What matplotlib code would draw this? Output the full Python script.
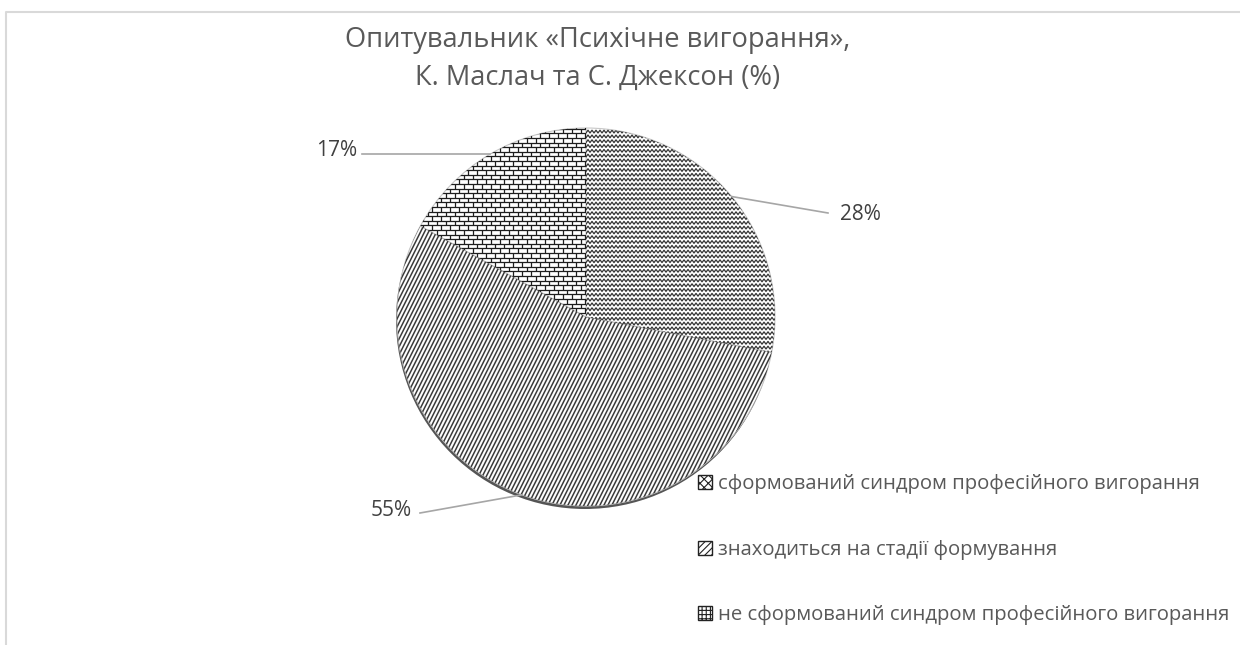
import matplotlib
matplotlib.use('Agg')
import matplotlib.pyplot as plt
import numpy as np
from matplotlib.collections import LineCollection
from matplotlib.patches import Patch, Circle

plt.rcParams['font.family'] = ['Open Sans', 'DejaVu Sans']
plt.rcParams['hatch.linewidth'] = 0.8

# data
categories = ['сформований синдром професійного вигорання',
              'знаходиться на стадії формування',
              'не сформований синдром професійного вигорання']
values = [28, 55, 17]
pct_labels = ['28%', '55%', '17%']
title_lines = ['Опитувальник «Психічне вигорання»,', 'К. Маслач та С. Джексон (%)']

W, H = 1240, 645
fig = plt.figure(figsize=(12.4, 6.45), dpi=100)
ax = fig.add_axes([0, 0, 1, 1])

cx, cy, r = 586, 328, 189

# shadow under the pie (bottom rim)
ax.add_patch(Circle((cx - 1, cy - 3), r, facecolor='#555555', edgecolor='none', zorder=0))

wedges, _ = ax.pie(values, center=(cx, cy), radius=r, startangle=90, counterclock=False,
                   wedgeprops=dict(facecolor='white', edgecolor='#c8c8c8', linewidth=0.8))
ax.set_xlim(0, W)
ax.set_ylim(0, H)
ax.set_aspect('equal')
ax.axis('off')

# slice 1: zigzag waves
segs = []
for y0 in np.arange(cy - r, cy + r, 4.8):
    xs = np.arange(cx - 2, cx + r + 4, 2.0)
    ys = y0 + np.where(np.arange(len(xs)) % 2 == 0, 1.4, -1.4)
    segs.append(np.column_stack([xs, ys]))
lc = LineCollection(segs, colors='#333333', linewidths=0.9, zorder=3)
lc.set_clip_path(wedges[0])
ax.add_collection(lc)

# slice 2: steep dense diagonals
segs = []
y_lo, y_hi = cy - r - 5, cy + r + 5
for x0 in np.arange(cx - r - 200, cx + r + 5, 4.0):
    segs.append([(x0, y_lo), (x0 + (y_hi - y_lo) / 2.0, y_hi)])
lc1 = LineCollection(segs, colors='#3c3c3c', linewidths=1.1, zorder=3)
lc1.set_clip_path(wedges[1])
ax.add_collection(lc1)

# slice 3: bricks
segs = []
row_h, brick_w = 4.6, 9.0
for i, y0 in enumerate(np.arange(cy - 5, cy + r + 5, row_h)):
    segs.append([(cx - r, y0), (cx + 5, y0)])
    off = 0 if i % 2 == 0 else brick_w / 2
    for x0 in np.arange(cx - r - 10 + off, cx + 10, brick_w):
        segs.append([(x0, y0), (x0, y0 + row_h)])
lc2 = LineCollection(segs, colors='#1e1e1e', linewidths=0.9, zorder=3)
lc2.set_clip_path(wedges[2])
ax.add_collection(lc2)

# percentage labels with leader lines
label_pos = [(840, 430, 'left', 828, 432), (412, 135, 'right', 420, 132), (357, 495, 'right', 362, None)]
start = 90
for v, txt, (tx, ty, ha, lx, ly) in zip(values, pct_labels, label_pos):
    mid = np.deg2rad(start - 180 * v / 100)
    start -= 360 * v / 100
    ex, ey = cx + r * np.cos(mid), cy + r * np.sin(mid)
    if ly is None:
        ly = ey
    ax.plot([ex, lx], [ey, ly], color='#a6a6a6', lw=1.2, zorder=4)
    ax.text(tx, ty, txt, ha=ha, va='center', fontsize=15, color='#404040')

# title
ax.text(598, H - 40, title_lines[0], ha='center', va='center', fontsize=19.6, color='#595959')
ax.text(598, H - 78, title_lines[1], ha='center', va='center', fontsize=19.6, color='#595959')

# chart border
ax.plot([6, 6, W + 5], [-5, H - 12, H - 12], color='#d9d9d9', lw=1.5, zorder=1)

handles = [Patch(facecolor='white', edgecolor='#222222', hatch='xxxx'),
           Patch(facecolor='white', edgecolor='#222222', hatch='/////'),
           Patch(facecolor='white', edgecolor='#222222', hatch='++++')]
ax.legend(handles, categories, loc='upper left', bbox_to_anchor=(690 / W, 1 - 466 / H),
          frameon=False, fontsize=14.6, labelcolor='#595959', labelspacing=2.25,
          handlelength=0.7, handleheight=0.7, handletextpad=0.3, borderaxespad=0)

fig.savefig('out.png', dpi=100)
